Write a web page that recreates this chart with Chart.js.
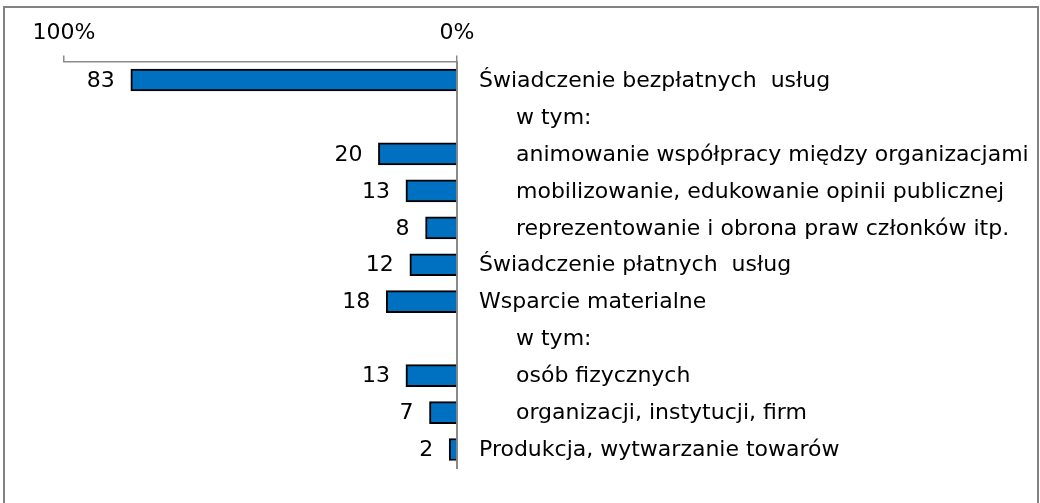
<!DOCTYPE html>
<html>
<head>
<meta charset="utf-8">
<script src="https://cdn.jsdelivr.net/npm/chart.js@4.4.1/dist/chart.umd.min.js"></script>
<style>
    body { margin: 0; background: #fff; overflow: hidden; }
    #frame {
        position: absolute; left: 3px; top: 6px; width: 1036px; height: 600px;
        border: 2px solid #828282; box-sizing: border-box;
    }
    #chart { position: absolute; left: 0; top: 0; }
</style>
</head>
<body>
<div id="frame"></div>
<canvas id="chart" width="1040" height="503"></canvas>
<script>
// =====================
//  DATA
// =====================
const CATEGORIES = [
    "Świadczenie bezpłatnych  usług",
    "w tym:",
    "animowanie współpracy między organizacjami",
    "mobilizowanie, edukowanie opinii publicznej",
    "reprezentowanie i obrona praw członków itp.",
    "Świadczenie płatnych  usług",
    "Wsparcie materialne",
    "w tym:",
    "osób fizycznych",
    "organizacji, instytucji, firm",
    "Produkcja, wytwarzanie towarów"
];
// podpozycje (wcięte)
const IS_SUB = [false, true, true, true, true, false, false, true, true, true, false];
const VALUES = [83, null, 20, 13, 8, 12, 18, null, 13, 7, 2];
const TICK_MIN = 0;
const TICK_MAX = 100;

const FONT = "DejaVu Sans, Verdana, sans-serif";
const FONT_SIZE = 22;

// =====================
//  LABEL PLUGIN
// =====================
const labelPlugin = {
    id: "labels",
    afterDraw(chart) {
        const ctx = chart.ctx;
        const yScale = chart.scales.y;
        ctx.save();
        ctx.font = FONT_SIZE + "px " + FONT;
        ctx.fillStyle = "#000";
        ctx.textBaseline = "middle";

        // nazwy kategorii po prawej stronie osi
        ctx.textAlign = "left";
        CATEGORIES.forEach((name, i) => {
            const y = yScale.getPixelForTick(i);
            const x = chart.chartArea.right + (IS_SUB[i] ? 59 : 22);
            ctx.fillText(name, x, y + 1);
        });

        // wartości przy końcu słupka
        ctx.textAlign = "right";
        const meta = chart.getDatasetMeta(0);
        meta.data.forEach((bar, i) => {
            if (VALUES[i] == null) return;
            ctx.fillText(String(VALUES[i]), bar.x - 16, bar.y + 1);
        });
        ctx.restore();
    }
};

// =====================
//  BAR CHART
// =====================
const ctx = document.getElementById("chart").getContext("2d");

new Chart(ctx, {
    type: "bar",
    data: {
        labels: CATEGORIES,
        datasets: [
            {
                data: VALUES,
                backgroundColor: "#0070C0",
                borderColor: "#000000",
                borderWidth: 2,
                borderSkipped: "start",
                barThickness: 22
            }
        ]
    },
    options: {
        indexAxis: "y",
        responsive: false,
        animation: false,
        layout: { padding: { left: 64, right: 0, top: 0, bottom: 35 } },
        plugins: {
            legend: { display: false },
            tooltip: { enabled: false }
        },
        scales: {
            x: {
                position: "top",
                reverse: true,
                min: TICK_MIN,
                max: TICK_MAX,
                afterFit: (s) => { s.height = 61.5; },
                ticks: {
                    stepSize: 100,
                    padding: 9,
                    color: "#000",
                    font: { family: FONT, size: FONT_SIZE },
                    maxRotation: 0,
                    callback: (v) => v + "%"
                },
                grid: {
                    drawOnChartArea: false,
                    drawTicks: true,
                    tickLength: 6,
                    color: "#8a8a8a",
                    lineWidth: 1.5
                },
                border: { display: true, color: "#8a8a8a", width: 1.5 }
            },
            y: {
                position: "right",
                afterFit: (s) => { s.width = 1040 - 457; },
                ticks: { display: false },
                grid: { display: false },
                border: { display: true, color: "#8a8a8a", width: 2 }
            }
        }
    },
    plugins: [labelPlugin]
});
</script>
</body>
</html>
